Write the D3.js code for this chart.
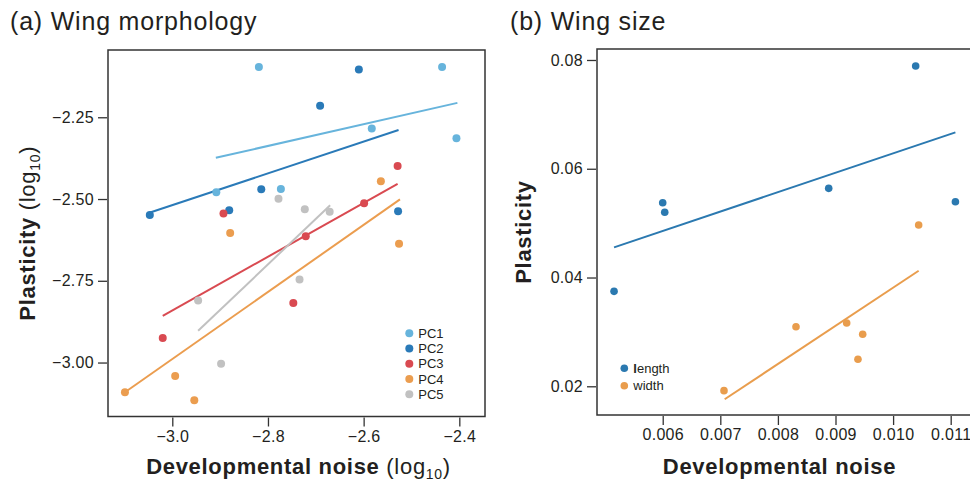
<!DOCTYPE html>
<html>
<head>
<meta charset="utf-8">
<script src="https://cdn.jsdelivr.net/npm/d3@7"></script>
<style>
    body { margin: 0; background: #fff; }
    svg text { font-family: "Liberation Sans", Arial, Helvetica, sans-serif; fill: #231f20; }
</style>
</head>
<body>
<svg id="chart" width="970" height="485"></svg>
<script>

// Panel (a) - wing morphology, log10 values per principal component
const pc1X = [-2.819, -2.436, -2.583, -2.406, -2.908, -2.773];
const pc1Y = [-2.096, -2.096, -2.284, -2.314, -2.479, -2.469];
const pc2X = [-2.610, -2.691, -2.814, -2.881, -3.047, -2.528];
const pc2Y = [-2.104, -2.215, -2.470, -2.534, -2.549, -2.537];
const pc3X = [-2.529, -2.599, -2.721, -2.893, -2.747, -3.020];
const pc3Y = [-2.399, -2.513, -2.614, -2.544, -2.818, -2.925];
const pc4X = [-2.564, -2.879, -2.526, -2.994, -2.954, -3.099];
const pc4Y = [-2.446, -2.604, -2.637, -3.041, -3.115, -3.091];
const pc5X = [-2.778, -2.723, -2.671, -2.734, -2.946, -2.898];
const pc5Y = [-2.499, -2.531, -2.539, -2.746, -2.810, -3.004];

// Fitted lines [x0, y0, x1, y1]
const pc1Fit = [-2.909, -2.374, -2.404, -2.206];
const pc2Fit = [-3.048, -2.542, -2.527, -2.289];
const pc3Fit = [-3.020, -2.857, -2.529, -2.454];
const pc4Fit = [-3.099, -3.091, -2.524, -2.501];
const pc5Fit = [-2.946, -2.903, -2.670, -2.519];

const morphLabels = ["PC1", "PC2", "PC3", "PC4", "PC5"];
const morphTicksX = [-3.0, -2.8, -2.6, -2.4];
const morphTicksY = [-2.25, -2.50, -2.75, -3.00];

// Panel (b) - wing size
const lengthX = [0.005155, 0.006, 0.006035, 0.008882, 0.010392, 0.011082];
const lengthY = [0.03746, 0.05375, 0.0520, 0.0564, 0.0789, 0.05393];
const widthX = [0.007064, 0.008314, 0.009194, 0.009390, 0.009472, 0.010444];
const widthY = [0.0192, 0.03096, 0.03164, 0.02496, 0.02956, 0.04965];
const lengthFit = [0.005155, 0.04555, 0.011082, 0.06669];
const widthFit = [0.007076, 0.01761, 0.010444, 0.04125];

const sizeLabels = ["length", "width"];
const sizeTicksX = [0.006, 0.007, 0.008, 0.009, 0.010, 0.011];
const sizeTicksY = [0.02, 0.04, 0.06, 0.08];

const svg = d3.select("#chart");

/** Draw one scatter panel with box, ticks, fit lines, points and legend */
function drawPanel(cfg) {

    const x = d3.scaleLinear().domain(cfg.xDomain).range([cfg.left, cfg.right]);
    const y = d3.scaleLinear().domain(cfg.yDomain).range([cfg.bottom, cfg.top]);

    // Bottom axis
    const xAxis = svg.append("g")
        .attr("transform", `translate(0,${cfg.bottom + 1})`)
        .call(d3.axisBottom(x).tickValues(cfg.xTicks).tickFormat(d3.format(cfg.xFormat))
            .tickSize(9).tickPadding(4));
    xAxis.select(".domain").remove();

    // Left axis
    const yAxis = svg.append("g")
        .attr("transform", `translate(${cfg.left - 1},0)`)
        .call(d3.axisLeft(y).tickValues(cfg.yTicks).tickFormat(d3.format(cfg.yFormat))
            .tickSize(9).tickPadding(4));
    yAxis.select(".domain").remove();

    svg.selectAll(".tick line").attr("stroke", "#333").attr("stroke-width", 1.3);
    svg.selectAll(".tick text")
        .style("font-size", "16px")
        .style("letter-spacing", "0.3px");

    // Box
    svg.append("rect")
        .attr("x", cfg.left)
        .attr("y", cfg.top)
        .attr("width", cfg.right - cfg.left)
        .attr("height", cfg.bottom - cfg.top)
        .attr("fill", "none")
        .attr("stroke", "#333")
        .attr("stroke-width", 1.5);

    // Fit lines
    svg.append("g")
        .selectAll("line")
        .data(cfg.series)
        .enter()
        .append("line")
        .attr("x1", (d) => x(d.fit[0]))
        .attr("y1", (d) => y(d.fit[1]))
        .attr("x2", (d) => x(d.fit[2]))
        .attr("y2", (d) => y(d.fit[3]))
        .attr("stroke", (d) => d.colour)
        .attr("stroke-width", 2);

    // Points
    cfg.series.forEach((s) => {
        svg.append("g")
            .selectAll("circle")
            .data(d3.zip(s.xs, s.ys))
            .enter()
            .append("circle")
            .attr("cx", (d) => x(d[0]))
            .attr("cy", (d) => y(d[1]))
            .attr("r", cfg.radius)
            .attr("fill", s.colour);
    });

    // Legend
    const legend = svg.append("g")
        .selectAll("g")
        .data(cfg.series)
        .enter()
        .append("g")
        .attr("transform", (d, i) => `translate(${cfg.legendX},${cfg.legendY + i * cfg.legendStep})`);
    legend.append("circle")
        .attr("r", cfg.radius)
        .attr("fill", (d) => d.colour);
    legend.append("text")
        .attr("x", 9)
        .attr("y", 4.5)
        .style("font-size", "13px")
        .each(function (d) {
            const t = d3.select(this);
            if (d.name === "length") {
                // odd bold first letter in the original
                t.append("tspan").style("font-weight", "bold").text("l");
                t.append("tspan").text("ength");
            } else {
                t.text(d.name);
            }
        });

    // Panel title
    svg.append("text")
        .attr("x", cfg.titleX)
        .attr("y", 30)
        .style("font-size", "25px")
        .style("letter-spacing", "0.8px")
        .text(cfg.title);

    // X label
    const xl = svg.append("text")
        .attr("x", (cfg.left + Math.min(cfg.right, 970)) / 2 + cfg.xLabelShift)
        .attr("y", 474)
        .attr("text-anchor", "middle")
        .style("font-size", "22px")
        .style("letter-spacing", "0.7px");
    xl.append("tspan").style("font-weight", "bold").text(cfg.xLabel);
    if (cfg.logUnits) addLogUnits(xl);

    // Y label
    const yl = svg.append("text")
        .attr("transform", `translate(${cfg.yLabelX},${(cfg.top + cfg.bottom) / 2}) rotate(-90)`)
        .attr("text-anchor", "middle")
        .style("font-size", "22px")
        .style("letter-spacing", "0.7px");
    yl.append("tspan").style("font-weight", "bold").text("Plasticity");
    if (cfg.logUnits) addLogUnits(yl);
}

/** Append " (log10)" with subscript */
function addLogUnits(text) {
    text.append("tspan").text(" (log");
    text.append("tspan").attr("dy", 5).style("font-size", "14px").text("10");
    text.append("tspan").attr("dy", -5).text(")");
}

const morphColours = ["#67b4dc", "#2a7ab8", "#d94a51", "#eb9d4f", "#c1c1c1"];
const morphXs = [pc1X, pc2X, pc3X, pc4X, pc5X];
const morphYs = [pc1Y, pc2Y, pc3Y, pc4Y, pc5Y];
const morphFits = [pc1Fit, pc2Fit, pc3Fit, pc4Fit, pc5Fit];

drawPanel({
    left: 108, right: 485, top: 50, bottom: 416.5,
    xDomain: [-3.1344, -2.3463], yDomain: [-3.165, -2.0443],
    xTicks: morphTicksX, yTicks: morphTicksY, xFormat: ".1f", yFormat: ".2f",
    series: morphLabels.map((n, i) => ({ name: n, colour: morphColours[i], xs: morphXs[i], ys: morphYs[i], fit: morphFits[i] })),
    radius: 4,
    legendX: 409.3, legendY: 333.3, legendStep: 15.25,
    title: "(a) Wing morphology", titleX: 10,
    xLabel: "Developmental noise", xLabelShift: 2, yLabelX: 35, logUnits: true
});

const sizeColours = ["#2b79b0", "#e99d4d"];

drawPanel({
    left: 597, right: 972, top: 49, bottom: 415,
    xDomain: [0.004859, 0.01137], yDomain: [0.01472, 0.08202],
    xTicks: sizeTicksX, yTicks: sizeTicksY, xFormat: ".3f", yFormat: ".2f",
    series: [
        { name: sizeLabels[0], colour: sizeColours[0], xs: lengthX, ys: lengthY, fit: lengthFit },
        { name: sizeLabels[1], colour: sizeColours[1], xs: widthX, ys: widthY, fit: widthFit }
    ],
    radius: 3.8,
    legendX: 624.3, legendY: 368.3, legendStep: 17.4,
    title: "(b) Wing size", titleX: 510,
    xLabel: "Developmental noise", xLabelShift: -4, yLabelX: 531, logUnits: false
});

</script>
</body>
</html>
